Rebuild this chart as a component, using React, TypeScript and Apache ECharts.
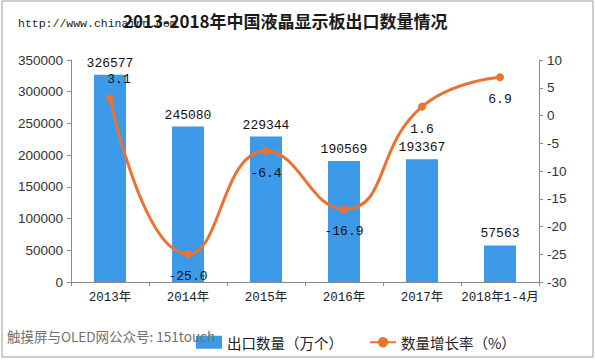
import React, { useEffect, useRef } from "react";
import * as echarts from "echarts";

const categories = ["2013年", "2014年", "2015年", "2016年", "2017年", "2018年1-4月"];
const exportQty = [326577, 245080, 229344, 190569, 193367, 57563];
const growthRate = [3.1, -25.0, -6.4, -16.9, 1.6, 6.9];
const growthLabels = ["3.1", "-25.0", "-6.4", "-16.9", "1.6", "6.9"];
const leftTicks = { min: 0, max: 350000, interval: 50000 };
const rightTicks = { min: -30, max: 10, interval: 5 };

const MONO = "'Liberation Mono', 'DejaVu Sans Mono', 'Noto Sans CJK SC', monospace";
const SANS = "'Liberation Sans', Arial, 'Noto Sans CJK SC', sans-serif";
const CJK = "'Noto Sans CJK SC', 'Liberation Sans', sans-serif";

export default function App() {
  const ref = useRef<HTMLDivElement>(null);
  useEffect(() => {
    if (!ref.current) return;
    const chart = echarts.init(ref.current, null, { renderer: "svg" });
    const lineData = growthRate.map((v, i) => ({
      value: v,
      label:
        i === 0
          ? { position: "top", distance: 8, offset: [9, 0], formatter: growthLabels[i] }
          : { position: "bottom", distance: 12, formatter: growthLabels[i] },
    }));
    chart.setOption({
      animation: false,
      backgroundColor: "#ffffff",
      grid: { left: 71, right: 56, top: 60, bottom: 78, containLabel: false },
      graphic: [
        {
          type: "rect",
          shape: { x: 2, y: 1, width: 591, height: 356 },
          style: { fill: "none", stroke: "#9a9a9a", lineWidth: 1 },
          silent: true,
          z: -1,
        },
        {
          type: "text",
          left: 18,
          top: 18,
          style: { text: "http://www.chinairn.com", font: `11.5px ${MONO}`, fill: "#222" },
          z: 10,
        },
        {
          type: "text",
          left: 123,
          top: 12,
          style: { text: "2013-2018年中国液晶显示板出口数量情况", font: `bold 17px ${CJK}`, fill: "#1a1a1a" },
          z: 11,
        },
        {
          type: "text",
          left: 7,
          top: 329,
          style: { text: "触摸屏与OLED网公众号: 151touch", font: `13.5px ${CJK}`, fill: "#707070" },
          z: 100,
        },
      ],
      legend: {
        left: 191,
        top: 330,
        itemWidth: 26,
        itemHeight: 13,
        itemGap: 26,
        textStyle: { fontFamily: CJK, fontSize: 14.5, color: "#222" },
        data: [
          { name: "出口数量（万个）", icon: "rect" },
          { name: "数量增长率（%）" },
        ],
      },
      xAxis: {
        type: "category",
        data: categories,
        boundaryGap: true,
        axisLine: { lineStyle: { color: "#8a8a8a" } },
        axisTick: { show: true, alignWithLabel: false, length: 4, lineStyle: { color: "#8a8a8a" } },
        axisLabel: { fontFamily: MONO, fontSize: 12.5, color: "#222", margin: 10, interval: 0 },
      },
      yAxis: [
        {
          type: "value",
          min: leftTicks.min,
          max: leftTicks.max,
          interval: leftTicks.interval,
          splitLine: { show: false },
          axisLine: { show: true, lineStyle: { color: "#8a8a8a" } },
          axisTick: { show: true, length: 4, lineStyle: { color: "#8a8a8a" } },
          axisLabel: {
            fontFamily: SANS,
            fontSize: 13.5,
            color: "#333",
            margin: 8,
            formatter: (v: number) => String(v),
          },
        },
        {
          type: "value",
          min: rightTicks.min,
          max: rightTicks.max,
          interval: rightTicks.interval,
          position: "right",
          splitLine: { show: false },
          axisLine: { show: true, lineStyle: { color: "#8a8a8a" } },
          axisTick: { show: true, length: 4, lineStyle: { color: "#8a8a8a" } },
          axisLabel: {
            fontFamily: SANS,
            fontSize: 13.5,
            color: "#333",
            margin: 8,
            formatter: (v: number) => String(v),
          },
        },
      ],
      series: [
        {
          name: "出口数量（万个）",
          type: "bar",
          data: exportQty,
          barWidth: 32,
          itemStyle: { color: "#3d9ae8" },
          label: {
            show: true,
            position: "top",
            distance: 5,
            fontFamily: MONO,
            fontSize: 13,
            color: "#111",
          },
        },
        {
          name: "数量增长率（%）",
          type: "line",
          yAxisIndex: 1,
          data: lineData,
          smooth: true,
          symbol: "circle",
          symbolSize: 8,
          lineStyle: { color: "#ec7231", width: 3 },
          itemStyle: { color: "#ec7231" },
          label: { show: true, fontFamily: MONO, fontSize: 13, color: "#111" },
        },
      ],
    });
    return () => chart.dispose();
  }, []);
  return <div ref={ref} style={{ position: "fixed", left: 0, top: 0, width: 595, height: 360 }} />;
}
